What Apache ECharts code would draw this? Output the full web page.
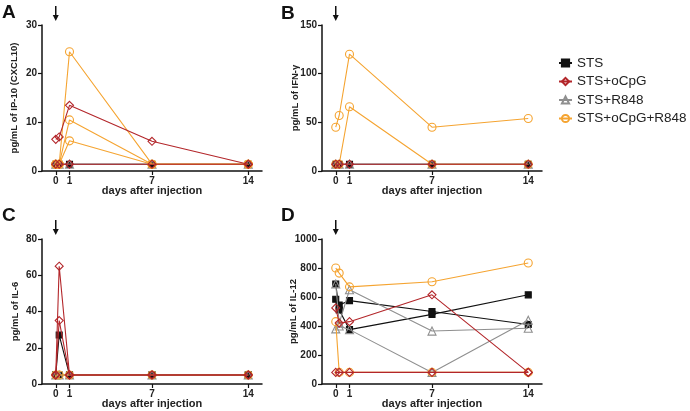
<!DOCTYPE html>
<html>
<head>
<meta charset="utf-8">
<script src="https://cdn.jsdelivr.net/npm/echarts@6/dist/echarts.min.js"></script>
<style>html,body{margin:0;padding:0;background:#fff}#c{width:690px;height:411px}</style>
</head>
<body>
<div id="c"></div>
<script>
// ---- data ----
const days = [0, 0.25, 1, 7, 14];
const xTicks = [0, 1, 7, 14];
const groups = ['STS', 'STS+oCpG', 'STS+R848', 'STS+oCpG+R848'];

// Panel A: IP-10 (CXCL10), one row per animal
const ip10_STS = [[1.4, 1.4, 1.4, 1.4, 1.4]];
const ip10_oCpG = [[6.5, 7.0, 13.5, 6.1, 1.4], [1.4, 1.4, 1.4, 1.4, 1.4]];
const ip10_R848 = [[1.4, 1.4, 1.4, 1.4, 1.4]];
const ip10_oCpGR848 = [[1.4, 1.4, 24.5, 1.4, 1.4], [1.4, 1.4, 10.5, 1.4, 1.4], [1.4, 1.4, 6.2, 1.4, 1.4]];

// Panel B: IFN-gamma
const ifn_STS = [[7, 7, 7, 7, 7]];
const ifn_oCpG = [[7, 7, 7, 7, 7]];
const ifn_R848 = [[7, 7, 7, 7, 7]];
const ifn_oCpGR848 = [[45, 57, 120, 45, 54], [7, 7, 66, 7, 7]];

// Panel C: IL-6
const il6_STS = [[5, 27, 5, 5, 5], [5, 5, 5, 5, 5]];
const il6_oCpG = [[5, 65, 5, 5, 5], [5, 35, 5, 5, 5]];
const il6_R848 = [[5, 5, 5, 5, 5]];
const il6_oCpGR848 = [[5, 5, 5, 5, 5]];

// Panel D: IL-12
const il12_STS = [[690, 510, 375, 480, 615], [585, 545, 575, 500, 410]];
const il12_oCpG = [[525, 420, 430, 615, 80], [80, 80, 80, 80, 80]];
const il12_R848 = [[690, 420, 650, 365, 385], [380, 400, 375, 80, 440]];
const il12_oCpGR848 = [[800, 765, 670, 705, 834], [430, 80, 80, 80, 80]];

const yTitles = ['pg/mL of IP-10 (CXCL10)', 'pg/mL of IFN-\u03b3', 'pg/mL of IL-6', 'pg/mL of IL-12'];
const yMax = [30, 150, 80, 1000];
const yStep = [10, 50, 20, 200];
const letters = ['A', 'B', 'C', 'D'];

// ---- styling ----
const FONT = 'Liberation Sans, Arial, sans-serif';
const colors = { 'STS': '#111111', 'STS+oCpG': '#b3262a', 'STS+R848': '#8f8f8f', 'STS+oCpG+R848': '#f5a431' };
const symbols = { 'STS': 'rect', 'STS+oCpG': 'diamond', 'STS+R848': 'triangle', 'STS+oCpG+R848': 'circle' };
const sizes = { 'STS': 6, 'STS+oCpG': 8, 'STS+R848': 8, 'STS+oCpG+R848': 8 };
const zOrder = { 'STS': 2, 'STS+R848': 3, 'STS+oCpG+R848': 4, 'STS+oCpG': 5 };

const grids = [
  { left: 42, top: 25, width: 220, height: 146 },
  { left: 322, top: 25, width: 220, height: 146 },
  { left: 42, top: 239, width: 220, height: 145 },
  { left: 322, top: 239, width: 220, height: 145 }
];

const panelData = [
  { 'STS': ip10_STS, 'STS+oCpG': ip10_oCpG, 'STS+R848': ip10_R848, 'STS+oCpG+R848': ip10_oCpGR848 },
  { 'STS': ifn_STS, 'STS+oCpG': ifn_oCpG, 'STS+R848': ifn_R848, 'STS+oCpG+R848': ifn_oCpGR848 },
  { 'STS': il6_STS, 'STS+oCpG': il6_oCpG, 'STS+R848': il6_R848, 'STS+oCpG+R848': il6_oCpGR848 },
  { 'STS': il12_STS, 'STS+oCpG': il12_oCpG, 'STS+R848': il12_R848, 'STS+oCpG+R848': il12_oCpGR848 }
];

const drawOrder = ['STS', 'STS+R848', 'STS+oCpG+R848', 'STS+oCpG'];
const series = [];
for (let p = 0; p < 4; p++) {
  for (const g of (p === 0 ? groups : drawOrder)) {
    for (const animal of panelData[p][g]) {
      const filled = g === 'STS';
      series.push({
        type: 'line',
        name: g,
        xAxisIndex: p,
        yAxisIndex: p,
        data: days.map((d, i) => [d, animal[i]]),
        symbol: symbols[g],
        symbolSize: sizes[g],
        showAllSymbol: true,
        z: zOrder[g],
        animation: false,
        lineStyle: { color: colors[g], width: 1.1 },
        itemStyle: {
          color: filled ? colors[g] : 'rgba(255,255,255,0)',
          borderColor: colors[g],
          borderWidth: 1.1
        },
        emphasis: { disabled: true }
      });
    }
  }
}

const axisColor = '#111';
const nameGaps = [23, 22, 22, 24];
const xAxes = grids.map((g, p) => ({
  type: 'value', gridIndex: p, min: -1, max: 15,
  axisLine: { show: true, onZero: false, lineStyle: { color: axisColor, width: 1.5 } },
  axisTick: { show: true, length: 4, customValues: xTicks, lineStyle: { color: axisColor, width: 1.2 } },
  axisLabel: { customValues: xTicks, fontFamily: FONT, fontWeight: 'bold', fontSize: 10, color: '#222', margin: 5 },
  splitLine: { show: false },
  name: 'days after injection', nameLocation: 'middle', nameGap: 14, nameMoveOverlap: false,
  nameTextStyle: { fontFamily: FONT, fontWeight: 'bold', fontSize: 11, color: '#222' }
}));
const yAxes = grids.map((g, p) => ({
  type: 'value', gridIndex: p, min: 0, max: yMax[p], interval: yStep[p],
  axisLine: { show: true, onZero: false, lineStyle: { color: axisColor, width: 1.5 } },
  axisTick: { show: true, length: 4, lineStyle: { color: axisColor, width: 1.2 } },
  axisLabel: { fontFamily: FONT, fontWeight: 'bold', fontSize: 10, color: '#222', margin: 5,
    formatter: v => String(v) },
  splitLine: { show: false },
  name: yTitles[p], nameLocation: 'middle', nameGap: nameGaps[p], nameMoveOverlap: false,
  nameTextStyle: { fontFamily: FONT, fontWeight: 'bold', fontSize: 9.5, color: '#222' }
}));

const chart = echarts.init(document.getElementById('c'), null, { renderer: 'canvas' });
chart.setOption({
  backgroundColor: '#fff',
  animation: false,
  grid: grids,
  xAxis: xAxes,
  yAxis: yAxes,
  legend: {
    data: groups, orient: 'vertical', left: 553, top: 51,
    itemWidth: 13, itemHeight: 9, itemGap: 4.5,
    textStyle: { fontFamily: FONT, fontSize: 13.5, color: '#222' },
    selectedMode: false
  },
  series: series
});

// letters and injection arrows
const graphics = [];
const letterPos = [[2, 3], [281, 4], [2, 206], [281, 206]];
letters.forEach((L, p) => {
  graphics.push({ type: 'text', left: letterPos[p][0], top: letterPos[p][1],
    style: { text: L, font: 'bold 19px ' + FONT, fill: '#111' } });
  const px = chart.convertToPixel({ xAxisIndex: p }, 0);
  const top = grids[p].top;
  graphics.push({ type: 'line', shape: { x1: px, y1: top - 19, x2: px, y2: top - 7 },
    style: { stroke: '#111', lineWidth: 1.5 } });
  graphics.push({ type: 'polygon', shape: { points: [[px - 3, top - 10], [px + 3, top - 10], [px, top - 4]] },
    style: { fill: '#111' } });
});
chart.setOption({ graphic: graphics });
</script>
</body>
</html>
